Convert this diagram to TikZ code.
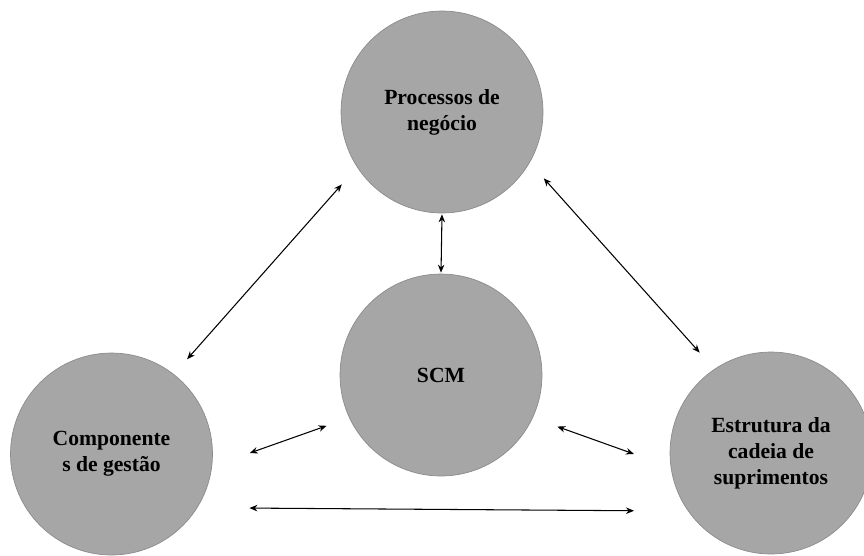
\documentclass[tikz,border=0pt]{standalone}
\usepackage{fontspec}
\setmainfont{Liberation Serif}
\usepackage{tikz}
\usetikzlibrary{positioning,calc,arrows.meta}

\definecolor{blobgray}{HTML}{A6A6A6}
\definecolor{blobline}{HTML}{8C8C8C}

\tikzset{
    blob/.style={circle, fill=blobgray, draw=blobline, line width=0.4pt, minimum size=4.04cm, inner sep=0pt, align=center, font=\fontsize{12.3}{14.8}\selectfont\bfseries},
    link/.style={{Stealth[length=1.6mm,width=1.3mm]}-{Stealth[length=1.6mm,width=1.3mm]}, line width=0.6pt}
}

\begin{document}
\begin{tikzpicture}[x=0.02cm, y=-0.02cm]
        \useasboundingbox (0,0) rectangle (864,555);
        \clip (0,0) rectangle (864,555);
        % Circles
        \node[blob] (proc) at (442,112) {Processos de\\negócio};
        \node[blob] (scm) at (441,375) {SCM};
        \node[blob] (comp) at (111.5,454) {Componente\\s de gestão};
        \node[blob] (est) at (771,453) {Estrutura da\\cadeia de\\suprimentos};
        % Links
        \draw[link, shorten <=0.4cm, shorten >=0.46cm] (comp.52) -- (proc.213);
        \draw[link, shorten <=0.42cm, shorten >=0.44cm] (proc.330) -- (est.124.5);
        \draw[link, shorten <=0.02cm, shorten >=0.02cm] (proc.south) -- (scm.north);
        \draw[link, shorten <=0.8cm, shorten >=0.48cm] (comp.353) -- (scm.205);
        \draw[link, shorten <=0.52cm, shorten >=0.78cm] (scm.335.6) -- (est.188.2);
        \draw[link, shorten <=1.04cm, shorten >=1.08cm] (comp.328.1) -- (est.215.1);
    \end{tikzpicture}
\end{document}
